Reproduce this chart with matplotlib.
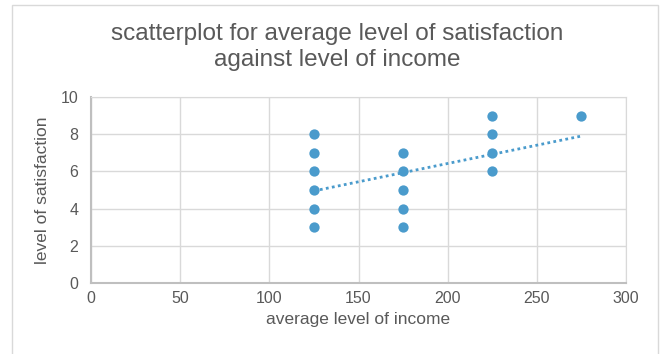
import matplotlib.pyplot as plt
import numpy as np

plt.rcParams['font.family'] = ['Liberation Sans', 'DejaVu Sans']

# data
income = [125, 125, 125, 125, 125, 125,
          175, 175, 175, 175, 175,
          225, 225, 225, 225,
          275]
satisfaction = [3, 4, 5, 6, 7, 8,
                3, 4, 5, 6, 7,
                6, 7, 8, 9,
                9]
trend_x = [125, 275]
trend_y = [4.95, 7.9]

xticks = [0, 50, 100, 150, 200, 250, 300]
yticks = [0, 2, 4, 6, 8, 10]

fig = plt.figure(figsize=(6.62, 3.54), dpi=100)
# outer chart border
fig.patches.append(plt.Rectangle((12/662, -0.1), 646/662, 1.1 - 5/354,
                                 transform=fig.transFigure, fill=False,
                                 edgecolor='#d9d9d9', linewidth=1))
ax = fig.add_axes([91/662, 1 - 283/354, 535/662, 186/354])

ax.scatter(income, satisfaction, s=55, color='#4a9bcc', zorder=3, linewidths=0)
ax.plot(trend_x, trend_y, linestyle=(0, (1, 1.2)), color='#4a9bcc', linewidth=2, zorder=2)

ax.set_xlim(0, 300)
ax.set_ylim(0, 10)
ax.set_xticks(xticks)
ax.set_yticks(yticks)
ax.grid(True, color='#d9d9d9', linewidth=1)
ax.set_axisbelow(True)
ax.tick_params(length=0, labelsize=11.5, colors='#595959')
ax.tick_params(axis='x', pad=6)
ax.tick_params(axis='y', pad=9)
for side in ['top', 'right']:
    ax.spines[side].set_color('#d9d9d9')
for side in ['left', 'bottom']:
    ax.spines[side].set_color('#bfbfbf')
    ax.spines[side].set_linewidth(1.5)

ax.set_xlabel('average level of income', fontsize=12.5, color='#595959', labelpad=4)
ax.set_ylabel('level of satisfaction', fontsize=12.5, color='#595959', labelpad=8)
fig.text(337/662, 1 - 47/354,
         'scatterplot for average level of satisfaction\nagainst level of income',
         fontsize=17.5, color='#595959', ha='center', va='center', linespacing=1.25)

fig.savefig('out.png', dpi=100)
